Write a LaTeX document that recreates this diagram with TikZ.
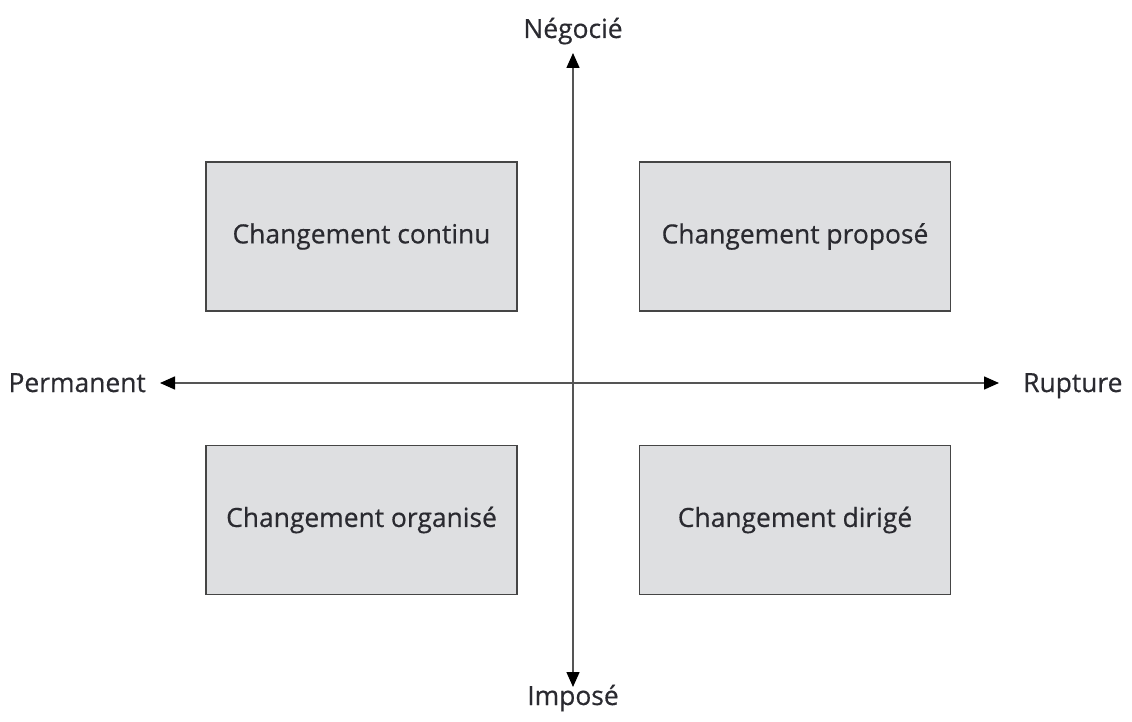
\documentclass[tikz,border=0pt]{standalone}
\usepackage{fontspec}
\newfontfamily\labelfont{Open Sans}[FakeBold=0.5]
\usetikzlibrary{arrows.meta}
\definecolor{boxfill}{HTML}{DEDFE1}
\definecolor{boxline}{HTML}{454545}
\definecolor{axisline}{HTML}{555555}
\definecolor{ink}{HTML}{2A2A30}
\begin{document}
\begin{tikzpicture}[x=1pt,y=-1pt,
  txt/.style={text=ink,font=\labelfont\fontsize{26.4}{30}\selectfont},
  quad/.style={txt,draw=boxline,line width=1.4pt,fill=boxfill,minimum width=311pt,minimum height=149pt,inner sep=0pt},
  axislabel/.style={txt,inner sep=0pt},
  axis/.style={draw=axisline,line width=1.5pt,{Triangle[length=15pt,width=13pt,color=black]}-{Triangle[length=15pt,width=13pt,color=black]}}]
\useasboundingbox (0,0) rectangle (1132,722);
% quadrants
\node[quad] (tl) at (361.5,236.5) {Changement continu};
\node[quad] (tr) at (795,236.5) {Changement propos\'e};
\node[quad] (bl) at (361.5,520) {Changement organis\'e};
\node[quad] (br) at (795,520) {Changement dirig\'e};
% axis end points
\coordinate (top) at (573,53);
\coordinate (bottom) at (573,687);
\coordinate (left) at (160,383);
\coordinate (right) at (999,383);
\draw[axis] (bottom) -- (top);
\draw[axis] (left) -- (right);
% axis labels
\node[axislabel,anchor=base] (neg) at (573,38) {N\'egoci\'e};
\node[axislabel,anchor=base] (imp) at (573,705) {Impos\'e};
\node[axislabel,anchor=base east] (perm) at (146,392) {Permanent};
\node[axislabel,anchor=base west] (rup) at (1023,392) {Rupture};
\end{tikzpicture}
\end{document}
